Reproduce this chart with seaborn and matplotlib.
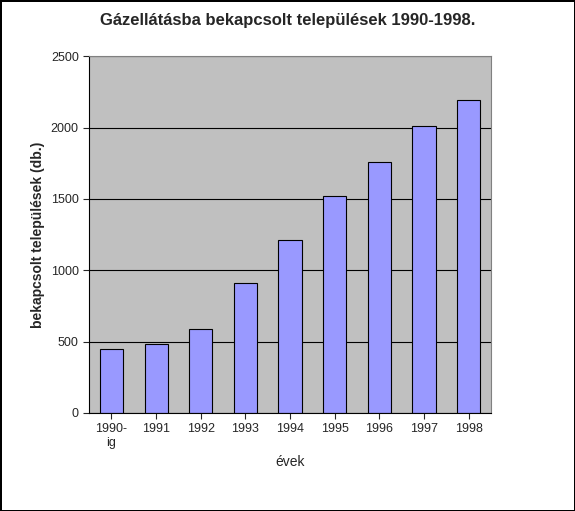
import matplotlib
matplotlib.use("Agg")
import matplotlib.pyplot as plt
import seaborn as sns
import pandas as pd

categories = ["1990-\nig", "1991", "1992", "1993", "1994", "1995", "1996", "1997", "1998"]
values = [450, 480, 590, 910, 1210, 1520, 1760, 2010, 2190]

sns.set_style("white")
plt.rcParams['font.family'] = ['Liberation Sans', 'DejaVu Sans']

fig = plt.figure(figsize=(5.75, 5.11), dpi=100)
fig.patch.set_edgecolor("black")
fig.patch.set_linewidth(2)
ax = fig.add_axes([0.155, 0.192, 0.699, 0.698])
ax.set_facecolor("#C0C0C0")

df = pd.DataFrame({"ev": categories, "v": values})
sns.barplot(data=df, x="ev", y="v", color="#9999FF", edgecolor="black", linewidth=0.8, width=0.52, saturation=1, ax=ax)

ax.set_ylim(0, 2500)
ax.set_yticks(range(0, 2501, 500))
ax.yaxis.grid(True, color="black", linewidth=0.8)
ax.set_axisbelow(True)
for s in ax.spines.values():
    s.set_color("#808080")
ax.spines["left"].set_color("black")
ax.spines["bottom"].set_color("black")
ax.tick_params(axis="both", labelsize=9, length=4, direction="out", left=True, bottom=True)
ax.set_xlabel("évek", fontsize=10)
ax.set_ylabel("bekapcsolt települések (db.)", fontsize=10, fontweight="bold")
fig.suptitle("Gázellátásba bekapcsolt települések 1990-1998.", fontsize=12, fontweight="bold", y=0.975)

fig.savefig("out.png", dpi=100, edgecolor=fig.get_edgecolor())
